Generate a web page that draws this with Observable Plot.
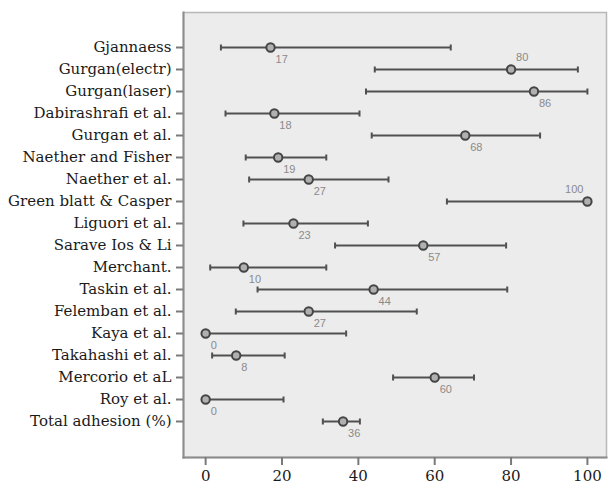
<!DOCTYPE html>
<html>
<head>
<meta charset="utf-8">
<script src="https://cdn.jsdelivr.net/npm/d3@7"></script>
<script src="https://cdn.jsdelivr.net/npm/@observablehq/plot@0.6"></script>
<style>
  html, body { margin: 0; padding: 0; background: #fff; }
  #chart svg { display: block; }
</style>
</head>
<body>
<div id="chart"></div>
<script>
const studies = [
  "Gjannaess", "Gurgan(electr)", "Gurgan(laser)", "Dabirashrafi et al.",
  "Gurgan et al.", "Naether and Fisher", "Naether et al.", "Green blatt & Casper",
  "Liguori et al.", "Sarave Ios & Li", "Merchant.", "Taskin et al.",
  "Felemban et al.", "Kaya et al.", "Takahashi et al.", "Mercorio et aL",
  "Roy et al.", "Total adhesion (%)"
];
const lower = [4, 44.3, 42, 5.2, 43.5, 10.5, 11.4, 63.2, 9.9, 33.9, 1.2, 13.6, 7.9, 0, 1.7, 49.1, 0, 30.7];
const means = [17, 80, 86, 18, 68, 19, 27, 100, 23, 57, 10, 44, 27, 0, 8, 60, 0, 36];
const upper = [64.2, 97.5, 100, 40.3, 87.6, 31.6, 47.9, 100, 42.5, 78.7, 31.6, 79, 55.3, 36.8, 20.7, 70.3, 20.4, 40.4];
const xTicks = [0, 20, 40, 60, 80, 100];
const labelsAboveRight = ["Gurgan(electr)"];
const labelsAboveLeft = ["Green blatt & Casper"];

const rows = studies.map((name, i) => ({name, lo: lower[i], mean: means[i], hi: upper[i]}));
const below = rows.filter(d => !labelsAboveRight.includes(d.name) && !labelsAboveLeft.includes(d.name));
const aboveR = rows.filter(d => labelsAboveRight.includes(d.name));
const aboveL = rows.filter(d => labelsAboveLeft.includes(d.name));

const cap = {
  draw(context, size) {
    const h = Math.sqrt(size / Math.PI);
    context.moveTo(0, -h);
    context.lineTo(0, h);
  }
};

const labelStyle = {y: "name", x: "mean", text: d => String(d.mean), fill: "#8a8a8a",
  fontSize: 11, fontFamily: "Liberation Sans"};

const chart = Plot.plot({
  width: 608,
  height: 486,
  marginLeft: 183,
  marginRight: 2,
  marginTop: 12,
  marginBottom: 29,
  style: {background: "#fff", overflow: "visible"},
  x: {domain: [-5.8, 105], ticks: xTicks, label: null},
  y: {type: "point", domain: studies, range: [44, 424], padding: 0, label: null},
  marks: [
    Plot.frame({fill: "#ececec", stroke: "#b8b8b8", strokeWidth: 1.5}),
    Plot.frame({anchor: "left", stroke: "#8c8c8c", strokeWidth: 2}),
    Plot.frame({anchor: "bottom", stroke: "#8c8c8c", strokeWidth: 2}),
    Plot.axisX({ticks: xTicks, tickSize: 8, tickPadding: 5, stroke: "#7a7a7a", strokeWidth: 2,
      fill: "#1a1a1a", fontSize: 15, fontFamily: "DejaVu Serif", label: null}),
    Plot.axisY({tickSize: 7, tickPadding: 5, stroke: "#7a7a7a", strokeWidth: 2,
      fill: "#1a1a1a", fontSize: 15, fontFamily: "DejaVu Serif", label: null}),
    Plot.ruleY(rows, {y: "name", x1: "lo", x2: "hi", stroke: "#505050", strokeWidth: 2}),
    Plot.dot(rows, {y: "name", x: "lo", symbol: cap, r: 3, stroke: "#505050", strokeWidth: 2}),
    Plot.dot(rows, {y: "name", x: "hi", symbol: cap, r: 3, stroke: "#505050", strokeWidth: 2}),
    Plot.dot(rows, {y: "name", x: "mean", r: 4.2, fill: "#b0b0b0", stroke: "#444", strokeWidth: 2}),
    Plot.text(below, {...labelStyle, textAnchor: "start", dx: 5, dy: 12}),
    Plot.text(aboveR, {...labelStyle, textAnchor: "start", dx: 5, dy: -12}),
    Plot.text(aboveL, {...labelStyle, textAnchor: "end", dx: -4, dy: -12})
  ]
});
document.getElementById("chart").appendChild(chart);
</script>
</body>
</html>
